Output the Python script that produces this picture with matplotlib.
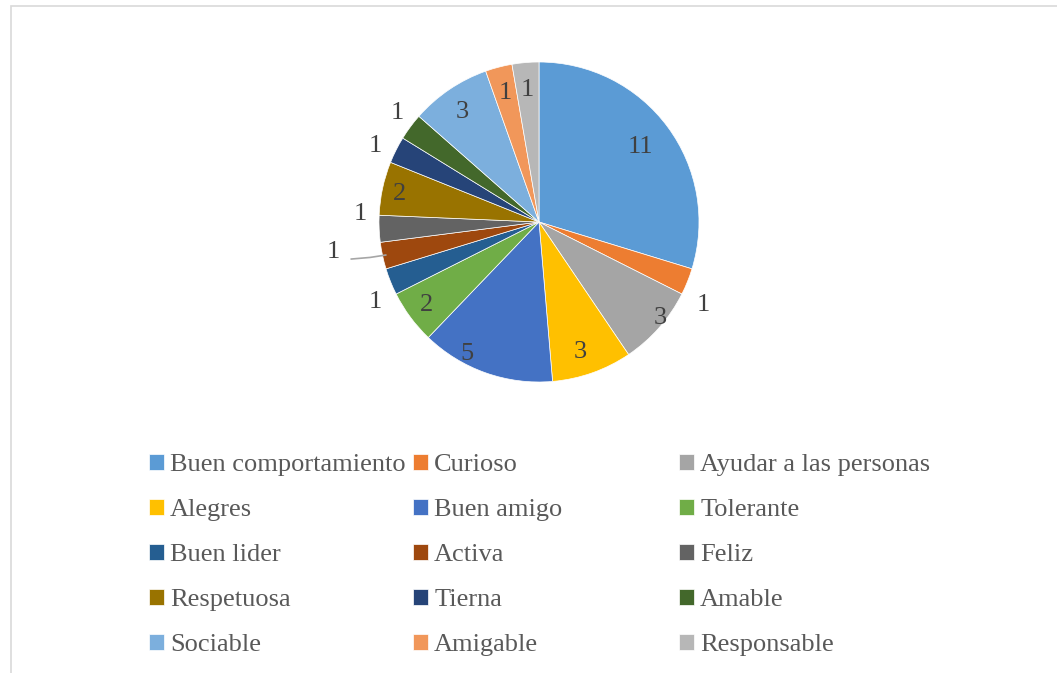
import numpy as np
import matplotlib.pyplot as plt
from matplotlib.patches import Rectangle

categorias = ['Buen comportamiento', 'Curioso', 'Ayudar a las personas',
              'Alegres', 'Buen amigo', 'Tolerante',
              'Buen lider', 'Activa', 'Feliz',
              'Respetuosa', 'Tierna', 'Amable',
              'Sociable', 'Amigable', 'Responsable']
valores = [11, 1, 3, 3, 5, 2, 1, 1, 1, 2, 1, 1, 3, 1, 1]
colores = ['#5B9BD5', '#ED7D31', '#A5A5A5', '#FFC000', '#4472C4', '#70AD47',
           '#255E91', '#9E480E', '#636363', '#997300', '#264478', '#43682B',
           '#7CAFDD', '#F1975A', '#B7B7B7']
# data label placement: radial distance (1 = pie edge) and angular nudge (deg)
dist_etiqueta = [0.79, 1.15, 0.97, 0.85, 0.94, 0.875, 1.14, 1.30, 1.12,
                 0.89, 1.13, 1.12, 0.84, 0.83, 0.83]
giro_etiqueta = [0, -5, 3, -2, -9, 0, 4, -4, -5, 1, 2, -1, 1, 0, 0]

plt.rcParams['font.family'] = ['Liberation Serif', 'DejaVu Serif']

W, H = 1057, 673
fig = plt.figure(figsize=(W / 100, H / 100), dpi=100)

# chart frame
fig.patches.append(Rectangle((11 / W, 0 - 0.01), 1.0, 1 - 6 / H + 0.01,
                             transform=fig.transFigure, fill=False,
                             edgecolor='#D9D9D9', linewidth=1.2))

cx, cy, r = 539, 222, 160
ax = fig.add_axes([(cx - r) / W, (H - cy - r) / H, 2 * r / W, 2 * r / H])
wedges, _ = ax.pie(valores, colors=colores, startangle=90, counterclock=False,
                   radius=1, wedgeprops=dict(edgecolor='white', linewidth=0.5))
ax.set_xlim(-1, 1)
ax.set_ylim(-1, 1)
ax.set_aspect('equal')
ax.axis('off')

for w, v, d, g, nombre in zip(wedges, valores, dist_etiqueta, giro_etiqueta, categorias):
    mid = np.deg2rad((w.theta1 + w.theta2) / 2)
    ang = mid + np.deg2rad(g)
    x, y = d * np.cos(ang), d * np.sin(ang)
    ax.text(x, y, str(v), ha='center', va='center', fontsize=19,
            color='#404040', clip_on=False)
    if nombre == 'Activa':
        ax.plot([0.98 * np.cos(mid), 1.08 * np.cos(mid), 1.2 * np.cos(mid)],
                [0.98 * np.sin(mid), 0.98 * np.sin(mid) - 0.015, 0.98 * np.sin(mid) - 0.025],
                color='#A6A6A6', linewidth=1.2, clip_on=False)

# legend in three columns, row order like the original
col_x = [149, 413, 679]
for c in range(3):
    idx = list(range(c, len(categorias), 3))
    fig.legend([wedges[i] for i in idx], [categorias[i] for i in idx],
               loc='upper left', bbox_to_anchor=(col_x[c] / W, 1 - 454 / H),
               frameon=False, fontsize=19, labelcolor='#595959',
               handlelength=0.55, handleheight=0.55, handletextpad=0.25,
               labelspacing=0.86, borderpad=0, borderaxespad=0)

fig.savefig('out.png', dpi=100)
